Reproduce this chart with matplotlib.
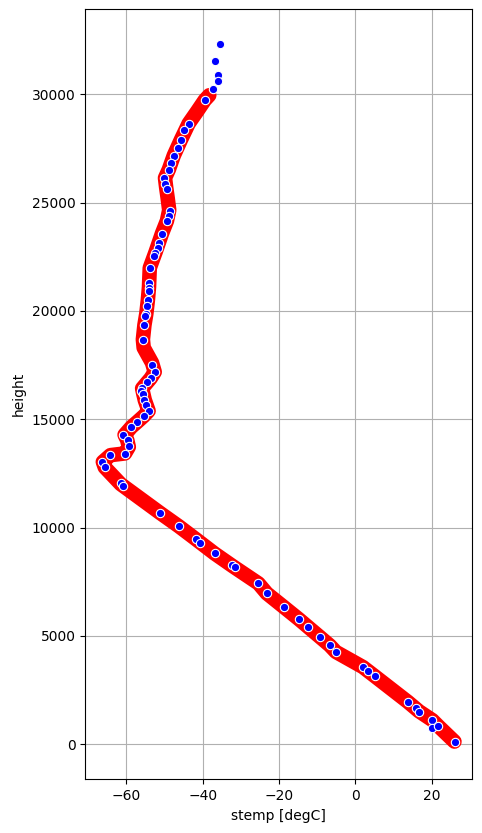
import numpy as np
import matplotlib
matplotlib.use("Agg")
import matplotlib.pyplot as plt

# dense profile (red band): temperature [degC], height [m]
red_temp = [-38.3, -39.5, -41.5, -43.7, -45.7, -47.6, -48.9, -49.9, -49.6, -49.2,
            -48.8, -49.4, -50.7, -52.4, -53.9, -54.1, -54.4, -54.8, -55.3, -55.7,
            -55.5, -53.3, -52.6, -53.7, -55.9, -55.6, -55.2, -54.2, -55.5, -57.2,
            -58.7, -60.5, -59.8, -59.4, -60.4, -64.2, -66.2, -65.7, -61.5, -51.1,
            -46.3, -41.8, -36.9, -32.0, -25.4, -23.2, -18.6, -14.8, -9.3, -6.7,
            -5.1, 2.0, 5.1, 13.8, 16.7, 20.2, 21.8, 26.0]
red_height = [29950, 29720, 29200, 28645, 27907, 27169, 26523, 26134, 25700, 25200,
              24650, 24150, 23570, 22700, 21980, 21100, 20490, 19870, 19340, 18680,
              18300, 17600, 17180, 16880, 16420, 16180, 15880, 15380, 15140, 14870,
              14640, 14280, 14030, 13720, 13420, 13340, 13030, 12780, 12000, 10660,
              10060, 9460, 8800, 8200, 7420, 6960, 6310, 5770, 4950, 4560,
              4260, 3560, 3140, 1950, 1520, 1110, 830, 120]

# sparse levels (blue dots)
blue_temp = [-35.4, -36.7, -36.1, -35.9, -37.2, -39.5, -43.7, -44.8, -45.7, -46.6,
             -47.6, -48.4, -48.9, -50.1, -49.8, -49.4, -48.7, -48.9, -49.4, -50.7,
             -51.5, -51.8, -52.4, -52.9, -53.9, -54.1, -54.1, -54.2, -54.4, -54.6,
             -54.8, -55.1, -55.3, -55.7, -53.2, -52.6, -53.7, -54.6, -55.9, -56.1,
             -55.8, -55.4, -55.0, -54.2, -55.5, -57.3, -58.7, -60.8, -59.6, -59.3,
             -60.5, -64.2, -66.3, -65.7, -61.5, -60.8, -51.1, -46.3, -41.8, -40.7,
             -36.9, -32.4, -31.6, -25.4, -23.2, -18.6, -14.8, -12.3, -9.3, -6.7,
             -5.1, 2.0, 3.3, 5.1, 13.8, 15.8, 16.8, 20.2, 20.0, 21.8, 26.1]
blue_height = [32306, 31535, 30875, 30612, 30261, 29721, 28645, 28336, 27907, 27538,
               27169, 26846, 26523, 26134, 25876, 25645, 24612, 24367, 24150, 23569,
               23153, 22904, 22673, 22535, 21981, 21289, 21076, 20920, 20491, 20214,
               19877, 19752, 19337, 18677, 17491, 17182, 16900, 16700, 16450, 16305,
               16150, 15876, 15645, 15380, 15137, 14874, 14643, 14280, 14030, 13760,
               13415, 13330, 13045, 12785, 12068, 11922, 10660, 10060, 9461, 9262,
               8801, 8261, 8170, 7417, 6955, 6309, 5769, 5414, 4952, 4555,
               4260, 3560, 3400, 3138, 1940, 1660, 1500, 1100, 724, 831, 122]

fig = plt.figure(figsize=(4.82, 8.33), dpi=100)
ax = fig.add_axes([0.177, 0.0645, 0.803, 0.9244])

ax.plot(red_temp, red_height, color='red', lw=10.5,
        solid_capstyle='round', solid_joinstyle='round', zorder=2)
ax.scatter(blue_temp, blue_height, s=36, color='blue',
           edgecolor='white', linewidth=0.8, zorder=3)

ax.set_xlim(-70.8, 30.7)
ax.set_ylim(-1620, 33920)
ax.set_xticks([-60, -40, -20, 0, 20])
ax.set_yticks(np.arange(0, 30001, 5000))
ax.grid(True)
ax.set_axisbelow(True)
ax.set_xlabel('stemp [degC]')
ax.set_ylabel('height')

fig.savefig('out.png', dpi=100)
